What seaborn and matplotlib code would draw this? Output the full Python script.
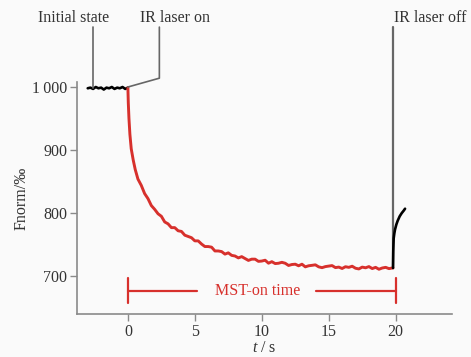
import pandas as pd
import matplotlib
matplotlib.use("Agg")
import matplotlib.pyplot as plt
import seaborn as sns

# valores
t_inicial = [-3.0, -2.8, -2.6, -2.4, -2.2, -2.0, -1.8, -1.6, -1.4, -1.2, -1.0, -0.8, -0.6, -0.4, -0.2, 0.0]
f_inicial = [998, 999, 997, 1000, 998, 999, 996, 999, 998, 1000, 997, 999, 998, 1000, 997, 999]

t_mst = [0.0, 0.03, 0.08, 0.15, 0.25, 0.4, 0.55, 0.75, 1.0, 1.25, 1.5, 1.75,
         2.0, 2.25, 2.5, 2.75, 3.0, 3.25, 3.5, 3.75, 4.0, 4.25, 4.5, 4.75,
         5.0, 5.25, 5.5, 5.75, 6.0, 6.25, 6.5, 6.75, 7.0, 7.25, 7.5, 7.75,
         8.0, 8.25, 8.5, 8.75, 9.0, 9.25, 9.5, 9.75, 10.0, 10.25, 10.5, 10.75,
         11.0, 11.25, 11.5, 11.75, 12.0, 12.25, 12.5, 12.75, 13.0, 13.25, 13.5, 13.75,
         14.0, 14.25, 14.5, 14.75, 15.0, 15.25, 15.5, 15.75, 16.0, 16.25, 16.5, 16.75,
         17.0, 17.25, 17.5, 17.75, 18.0, 18.25, 18.5, 18.75, 19.0, 19.25, 19.5, 19.75, 19.8]
f_mst = [999, 975, 950, 925, 902, 884, 869, 854, 844, 831, 823, 812,
         806, 799, 795, 786, 783, 777, 777, 772, 771, 765, 763, 761,
         756, 756, 751, 747, 747, 746, 740, 740, 739, 735, 737, 733,
         732, 729, 731, 728, 725, 727, 727, 723.5, 724, 725.3, 720.6, 723,
         720, 720.5, 722, 720.5, 717, 718.5, 719, 716.5, 719, 714.8, 716.5, 717.2,
         718, 714.8, 713.5, 715.2, 716, 716.8, 713.6, 714.4, 712.2, 715, 714, 715.8,
         712.6, 711.5, 714.4, 713.3, 715.2, 712.1, 714, 711, 713, 714, 712, 713, 713]

t_final = [19.8, 19.82, 19.85, 19.9, 19.95, 20.05, 20.15, 20.3, 20.45, 20.6, 20.7]
f_final = [713, 740, 760, 768, 774, 782, 788, 795, 800, 804, 807]

x_ticks = [0, 5, 10, 15, 20]
y_ticks = [700, 800, 900, 1000]
y_labels = ["700", "800", "900", "1\u2009000"]

sns.set_style("white")
plt.rcParams['font.family'] = ['Liberation Serif', 'DejaVu Serif']
plt.rcParams['mathtext.fontset'] = 'custom'
plt.rcParams['mathtext.it'] = 'Liberation Serif:italic'
plt.rcParams['mathtext.rm'] = 'Liberation Serif'

cinza = "#8a8a8a"
texto = "#333333"
vermelho = "#d7302c"
fs = 11.5

fig = plt.figure(figsize=(4.71, 3.57), dpi=100, facecolor="#fafafa")
ax = fig.add_axes([0.1635, 0.1204, 0.796, 0.650])
ax.set_facecolor("#fafafa")

df_ini = pd.DataFrame({"t": t_inicial, "f": f_inicial})
df_mst = pd.DataFrame({"t": t_mst, "f": f_mst})
df_fim = pd.DataFrame({"t": t_final, "f": f_final})

sns.lineplot(data=df_ini, x="t", y="f", color="black", lw=1.9, ax=ax, sort=False)
sns.lineplot(data=df_mst, x="t", y="f", color=vermelho, lw=2.1, ax=ax, sort=False)
sns.lineplot(data=df_fim, x="t", y="f", color="black", lw=1.9, ax=ax, sort=False)

ax.set_xlim(-3.8, 24.2)
ax.set_ylim(640, 1008)
ax.set_xticks(x_ticks)
ax.set_yticks(y_ticks)
ax.set_yticklabels(y_labels)
ax.tick_params(direction="out", length=5, width=1, color=cinza, labelsize=fs,
               labelcolor=texto, pad=2, left=True, bottom=True)
for lado in ["top", "right"]:
    ax.spines[lado].set_visible(False)
for lado in ["left", "bottom"]:
    ax.spines[lado].set_color(cinza)
    ax.spines[lado].set_linewidth(1.2)

ax.set_xlabel("$t$ / s", fontsize=fs, color=texto, labelpad=0)
ax.set_ylabel("Fnorm/\u2030", fontsize=fs, color=texto, labelpad=2)

# linhas de chamada
ax.plot([-2.64, -2.64], [999, 1095], color="#666666", lw=1.2, clip_on=False)
ax.plot([0.0, 2.35, 2.35], [1000, 1014, 1095], color="#666666", lw=1.2, clip_on=False)
ax.plot([19.78, 19.78], [713, 1095], color="#666666", lw=1.6, clip_on=False, zorder=1)

ax.text(-4.08, 1110, "Initial state", ha="center", va="center", fontsize=fs, color=texto, clip_on=False)
ax.text(3.55, 1110, "IR laser on", ha="center", va="center", fontsize=fs, color=texto, clip_on=False)
ax.text(22.6, 1110, "IR laser off", ha="center", va="center", fontsize=fs, color=texto, clip_on=False)

# intervalo MST-on
ax.plot([0, 5.15], [676, 676], color=vermelho, lw=1.6)
ax.plot([14.05, 20], [676, 676], color=vermelho, lw=1.6)
ax.plot([0, 0], [658, 697], color=vermelho, lw=1.6)
ax.plot([20, 20], [658, 697], color=vermelho, lw=1.6)
ax.text(9.66, 676, "MST-on time", ha="center", va="center", fontsize=fs, color=vermelho)

fig.savefig("out.png", dpi=100, facecolor=fig.get_facecolor())
